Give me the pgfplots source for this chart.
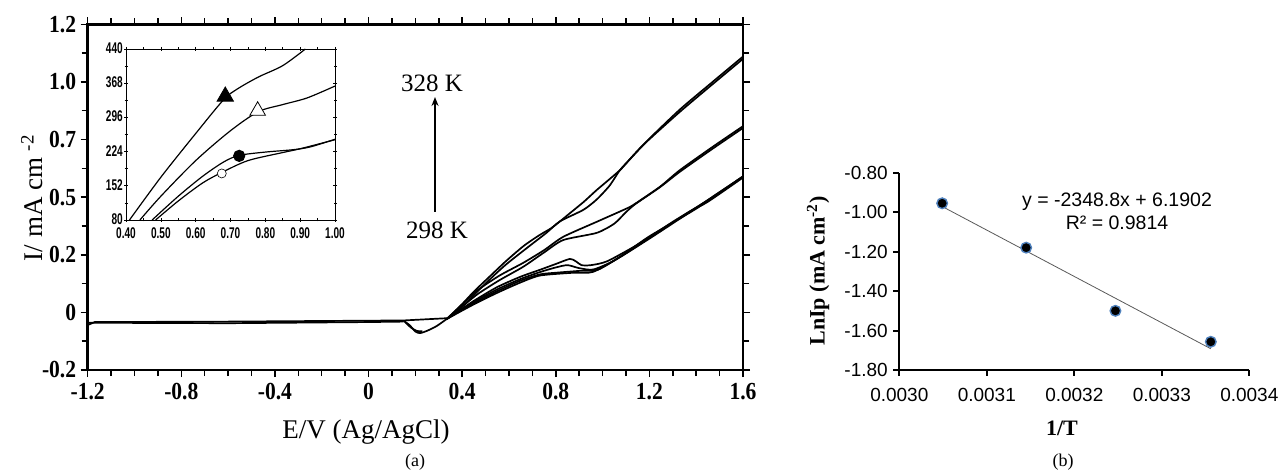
\documentclass[border=0pt]{standalone}
\usepackage{fontspec}
\setmainfont{Liberation Serif}
\usepackage{pgfplots}
\pgfplotsset{compat=1.18}
\usetikzlibrary{arrows.meta}
\newfontfamily\tickserif[FakeStretch=0.88]{Liberation Serif}
\newfontfamily\insetfont[FakeStretch=0.65]{Liberation Sans}
\newfontfamily\arial{Liberation Sans}
\definecolor{mkblue}{RGB}{79,129,189}
\begin{document}
\begin{tikzpicture}[x=1pt,y=1pt]
\useasboundingbox (0,0) rectangle (1282,471);
% ---------------- panel (a) main ----------------
\begin{axis}[at={(87.7pt,101pt)}, anchor=south west, scale only axis,
  width=655.3pt, height=345.7pt,
  xmin=-1.2, xmax=1.6, ymin=-0.25, ymax=1.25,
  xtick={-1.2,-0.8,-0.4,0,0.4,0.8,1.2,1.6},
  xticklabels={-1.2,-0.8,-0.4,0,0.4,0.8,1.2,1.6},
  ytick={-0.25,0,0.25,0.5,0.75,1,1.25},
  yticklabels={-0.2,0,0.2,0.5,0.7,1.0,1.2},
  minor x tick num=3, minor y tick num=1,
  tick align=outside, major tick length=7pt, minor tick length=6pt,
  xtick pos=both, ytick pos=both,
  xticklabel pos=lower, yticklabel pos=left,
  axis line style={line width=2.5pt},
  every tick/.style={line width=1.5pt, black},
  ticklabel style={font=\tickserif\bfseries\fontsize{24.5}{24.5}\selectfont},
  xticklabel style={yshift=-3pt},
  yticklabel style={xshift=-1pt},
  clip=false,
  cycle list={{black}}, no markers,
  every axis plot/.append style={black, line width=1.7pt},
]
% baseline
\addplot coordinates {(-1.2,-0.055)(-1.17,-0.042)(-0.6,-0.04)(0.15,-0.035)(0.34,-0.025)};
\addplot coordinates {(-1.2,-0.045)(-0.9,-0.046)(-0.6,-0.047)(0,-0.042)(0.15,-0.04)};
% reduction dip
\addplot[smooth, tension=0.4] coordinates {(0.15,-0.037)(0.175,-0.055)(0.2,-0.083)(0.22,-0.09)(0.25,-0.08)(0.29,-0.06)(0.335,-0.028)};
\addplot[smooth, tension=0.4] coordinates {(0.155,-0.04)(0.18,-0.065)(0.205,-0.08)(0.23,-0.082)};
% 328 K loop
\addplot[smooth, tension=0.4] coordinates {(0.335,-0.028)(0.39,0.025)(0.45,0.09)(0.52,0.158)(0.59,0.225)(0.665,0.29)(0.73,0.335)(0.78,0.365)(0.818,0.395)(0.86,0.43)(0.92,0.48)(0.975,0.531)(1.074,0.617)(1.13,0.68)(1.188,0.742)(1.33,0.88)(1.47,1.0)(1.60,1.11)};
\addplot[smooth, tension=0.4] coordinates {(1.60,1.10)(1.47,0.99)(1.33,0.87)(1.188,0.74)(1.12,0.668)(1.074,0.617)(1.03,0.55)(0.975,0.49)(0.918,0.445)(0.818,0.395)(0.76,0.345)(0.69,0.29)(0.59,0.21)(0.52,0.145)(0.45,0.075)(0.39,0.015)(0.335,-0.028)};
% 318 K loop
\addplot[smooth, tension=0.4] coordinates {(0.335,-0.028)(0.40,0.035)(0.467,0.097)(0.56,0.16)(0.661,0.215)(0.75,0.27)(0.832,0.328)(0.975,0.393)(1.088,0.444)(1.131,0.466)(1.245,0.545)(1.33,0.617)(1.47,0.718)(1.60,0.808)};
\addplot[smooth, tension=0.4] coordinates {(1.60,0.80)(1.47,0.71)(1.33,0.61)(1.245,0.543)(1.14,0.47)(1.10,0.435)(1.05,0.385)(0.975,0.345)(0.832,0.314)(0.75,0.26)(0.661,0.198)(0.56,0.14)(0.467,0.08)(0.40,0.025)(0.335,-0.028)};
% 308 K / 298 K loops
\addplot[smooth, tension=0.4] coordinates {(0.335,-0.028)(0.45,0.05)(0.55,0.11)(0.65,0.155)(0.733,0.185)(0.80,0.21)(0.86,0.232)(0.885,0.222)(0.91,0.205)(0.95,0.205)(1.02,0.222)(1.16,0.30)(1.30,0.393)(1.45,0.487)(1.60,0.59)};
\addplot[smooth, tension=0.4] coordinates {(1.60,0.585)(1.45,0.48)(1.37,0.436)(1.23,0.343)(1.09,0.25)(0.96,0.176)(0.875,0.172)(0.733,0.16)(0.65,0.13)(0.55,0.085)(0.45,0.035)(0.335,-0.028)};
\addplot[smooth, tension=0.4] coordinates {(0.335,-0.028)(0.45,0.045)(0.55,0.10)(0.65,0.145)(0.733,0.175)(0.80,0.195)(0.85,0.205)(0.90,0.192)(0.96,0.186)(1.05,0.225)(1.20,0.32)(1.35,0.42)(1.60,0.59)};
\addplot[smooth, tension=0.4] coordinates {(1.60,0.588)(1.40,0.45)(1.20,0.33)(1.08,0.245)(0.98,0.185)(0.90,0.18)(0.80,0.172)(0.733,0.165)(0.65,0.138)(0.55,0.092)(0.45,0.04)(0.335,-0.028)};
\end{axis}
% ---------------- inset ----------------
\begin{axis}[at={(126pt,251pt)}, anchor=south west, scale only axis,
  width=209pt, height=171pt,
  xmin=0.4, xmax=1.0, ymin=80, ymax=440,
  xtick={0.4,0.5,0.6,0.7,0.8,0.9,1.0},
  xticklabels={0.40,0.50,0.60,0.70,0.80,0.90,1.00},
  ytick={80,152,224,296,368,440},
  yticklabels={80,152,224,296,368,440},
  minor x tick num=1, minor y tick num=1,
  tick align=center, major tick length=4pt, minor tick length=3pt,
  xtick pos=both, ytick pos=both,
  xticklabel pos=lower, yticklabel pos=left,
  axis line style={line width=0.8pt},
  every tick/.style={line width=0.6pt, black},
  ticklabel style={font=\insetfont\bfseries\fontsize{15.5}{15.5}\selectfont, inner sep=1pt},
  xticklabel style={yshift=-4pt},
  yticklabel style={yshift=1pt},
  axis background/.style={fill=white},
  every axis plot/.append style={black, line width=1.2pt},
]
\addplot[smooth, mark=none] coordinates {(0.41,80)(0.50,170)(0.60,262)(0.68,333)(0.72,356)(0.78,381)(0.85,405)(0.915,440)};
\addplot[smooth, mark=none] coordinates {(0.44,80)(0.50,130)(0.60,205)(0.70,268)(0.78,308)(0.85,323)(0.92,337)(1.0,362)};
\addplot[smooth, mark=none] coordinates {(0.475,80)(0.55,130)(0.62,172)(0.68,202)(0.725,216)(0.80,223)(0.88,228)(0.93,234)(1.0,250)};
\addplot[smooth, mark=none] coordinates {(0.485,80)(0.55,120)(0.62,158)(0.675,180)(0.75,205)(0.85,222)(0.90,230)(1.0,249)};
\addplot[only marks, mark=triangle*, mark size=9.5pt, mark options={fill=black, draw=black, line width=0.8pt}] coordinates {(0.685,340)};
\addplot[only marks, mark=triangle*, mark size=9pt, mark options={fill=white, draw=black, line width=0.8pt}] coordinates {(0.778,310)};
\addplot[only marks, mark=*, mark size=5.5pt, mark options={fill=black, draw=black}] coordinates {(0.725,215)};
\addplot[only marks, mark=*, mark size=4.5pt, mark options={fill=white, draw=black, line width=0.6pt}] coordinates {(0.675,178)};
\end{axis}
% annotations (a)
\draw[line width=1.8pt, -{Stealth[length=9pt,width=7pt]}] (435pt,259pt) -- (435pt,374pt);
\node[font=\fontsize{25}{25}\selectfont] at (432pt,388pt) {328 K};
\node[font=\fontsize{25}{25}\selectfont] at (437pt,241pt) {298 K};
\node[font=\fontsize{27}{27}\selectfont] at (366pt,39pt) {E/V (Ag/AgCl)};
\node[font=\fontsize{27}{27}\selectfont, rotate=90] at (32pt,273pt) {I/ mA cm \textsuperscript{-2}};
\node[font=\fontsize{18}{18}\selectfont] at (415pt,9pt) {(a)};
% ---------------- panel (b) ----------------
\begin{axis}[at={(899.3pt,101pt)}, anchor=south west, scale only axis,
  width=350pt, height=197.3pt,
  xmin=0.0030, xmax=0.0034, ymin=-1.8, ymax=-0.8,
  axis x line*=bottom, axis y line*=left,
  scaled x ticks=false, scaled y ticks=false,
  xtick={0.0030,0.0031,0.0032,0.0033,0.0034},
  xticklabels={0.0030,0.0031,0.0032,0.0033,0.0034},
  ytick={-1.8,-1.6,-1.4,-1.2,-1.0,-0.8},
  yticklabels={-1.80,-1.60,-1.40,-1.20,-1.00,-0.80},
  tick align=outside, major tick length=6pt,
  axis line style={line width=2pt},
  every tick/.style={line width=2pt, black},
  ticklabel style={font=\arial\fontsize{19}{19}\selectfont},
  xticklabel style={yshift=-9pt},
  yticklabel style={xshift=-2pt},
  clip=false,
]
\addplot[black!65, line width=0.8pt, mark=none] coordinates {(0.003049,-0.9713)(0.003356,-1.6924)};
\addplot[only marks, mark=*, mark size=5.3pt, mark options={fill=black, draw=mkblue, line width=1.4pt}] coordinates {(0.003049,-0.955)(0.003145,-1.18)(0.003247,-1.50)(0.003356,-1.657)};
\end{axis}
\node[font=\arial\fontsize{19.5}{19.5}\selectfont] at (1117pt,269.3pt) {y = -2348.8x + 6.1902};
\node[font=\arial\fontsize{19.5}{19.5}\selectfont] at (1117pt,248.3pt) {R² = 0.9814};
\node[font=\bfseries\fontsize{22}{22}\selectfont] at (1062pt,43pt) {1/T};
\node[font=\bfseries\fontsize{22}{22}\selectfont, rotate=90] at (818pt,200pt) {LnIp (mA cm\textsuperscript{-2})};
\node[font=\fontsize{18}{18}\selectfont] at (1063pt,9pt) {(b)};
\end{tikzpicture}
\end{document}
